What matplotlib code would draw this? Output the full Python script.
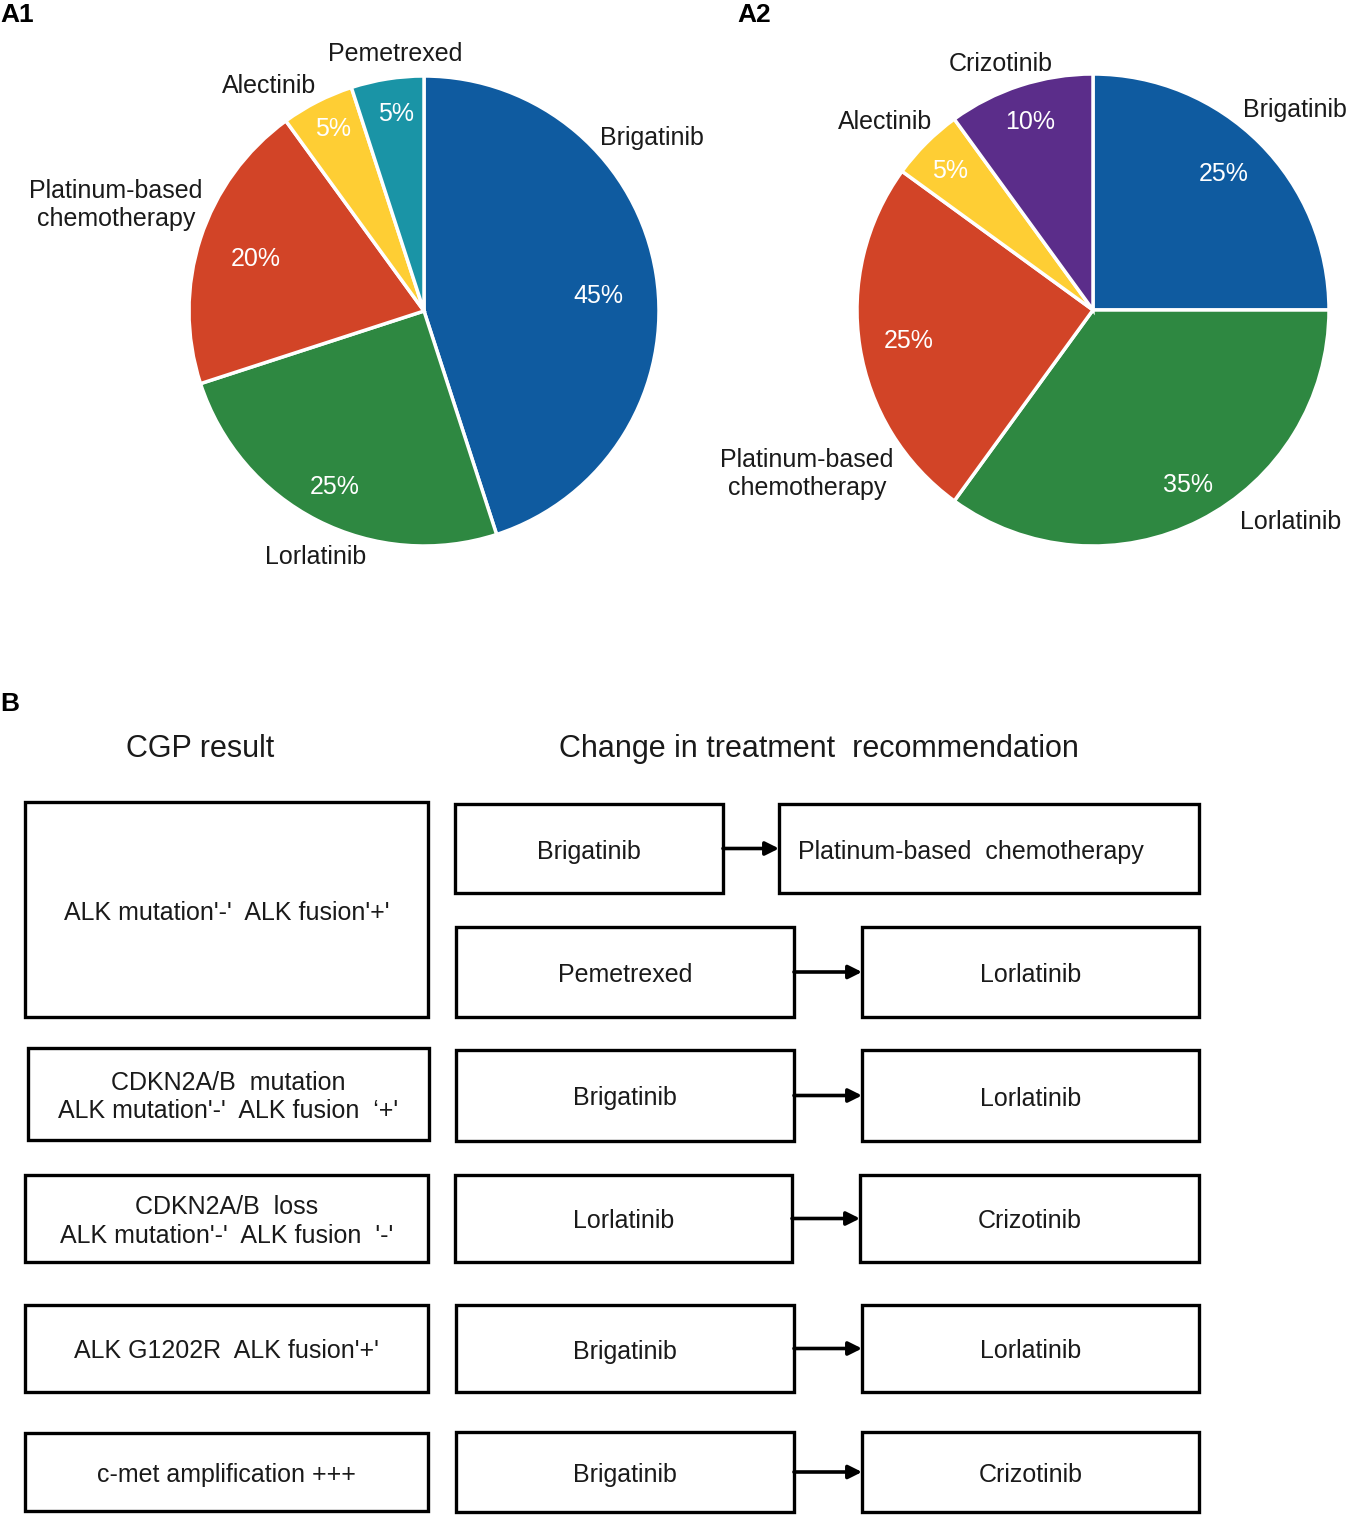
import matplotlib.pyplot as plt
from matplotlib.patches import Rectangle

plt.rcParams['font.family'] = ['Liberation Sans', 'DejaVu Sans']

# Panel A1: Behandlung vor CGP
a1_labels = ['Brigatinib', 'Lorlatinib', 'Platinum-based\nchemotherapy', 'Alectinib', 'Pemetrexed']
a1_values = [45, 25, 20, 5, 5]
a1_colors = ['#0F5BA0', '#2E8841', '#D24427', '#FECE34', '#1A94A6']

# Panel A2: Behandlung nach CGP
a2_labels = ['Brigatinib', 'Lorlatinib', 'Platinum-based\nchemotherapy', 'Alectinib', 'Crizotinib']
a2_values = [25, 35, 25, 5, 10]
a2_colors = ['#0F5BA0', '#2E8841', '#D24427', '#FECE34', '#5B2D8A']

# Panel B: CGP-Ergebnis und Therapiewechsel
cgp_results = ["ALK mutation'-'  ALK fusion'+'",
               "CDKN2A/B  mutation\nALK mutation'-'  ALK fusion  \u2018+'",
               "CDKN2A/B  loss\nALK mutation'-'  ALK fusion  '-'",
               "ALK G1202R  ALK fusion'+'",
               "c-met amplification +++"]
from_drugs = ['Brigatinib', 'Pemetrexed', 'Brigatinib', 'Lorlatinib', 'Brigatinib', 'Brigatinib']
to_drugs = ['Platinum-based  chemotherapy', 'Lorlatinib', 'Lorlatinib', 'Crizotinib', 'Lorlatinib', 'Crizotinib']

W, H = 1349, 1515
fig = plt.figure(figsize=(W / 100, H / 100), dpi=100)

txt_col = '#1a1a1a'
fs = 18


def pie_axes(cx, cy, r, values, colors):
    s = r + 15
    pax = fig.add_axes([(cx - s) / W, 1 - (cy + s) / H, 2 * s / W, 2 * s / H])
    pax.pie(values, colors=colors, startangle=90, counterclock=False,
            radius=r, frame=True,
            wedgeprops=dict(edgecolor='white', linewidth=2.5))
    pax.set_xlim(-s, s)
    pax.set_ylim(-s, s)
    pax.set_aspect('equal')
    pax.axis('off')
    return pax


pie_axes(424, 311, 235, a1_values, a1_colors)
pie_axes(1093, 310, 236, a2_values, a2_colors)

# Overlay in Pixelkoordinaten
ax = fig.add_axes([0, 0, 1, 1])
ax.set_xlim(0, W)
ax.set_ylim(H, 0)
ax.patch.set_visible(False)
ax.axis('off')

# Beschriftungen der Tortendiagramme
a1_label_pos = [(652, 138), (316, 557), (116, 205), (269, 86), (395, 54)]
a1_pct_pos = [(598, 296), (335, 487), (256, 259), (333, 129), (396, 114)]
a2_label_pos = [(1295, 110), (1291, 522), (807, 474), (885, 122), (1001, 64)]
a2_pct_pos = [(1224, 174), (1188, 485), (909, 341), (950, 171), (1030, 122)]

for labels, values, lpos, ppos in [(a1_labels, a1_values, a1_label_pos, a1_pct_pos),
                                   (a2_labels, a2_values, a2_label_pos, a2_pct_pos)]:
    for lab, v, (lx, ly), (px, py) in zip(labels, values, lpos, ppos):
        ax.text(lx, ly, lab, ha='center', va='center', fontsize=fs,
                color=txt_col, linespacing=1.25)
        ax.text(px, py, f'{v}%', ha='center', va='center', fontsize=fs,
                color='white')

# Panel-Buchstaben
ax.text(0, 15, 'A1', ha='left', va='center', fontsize=19, fontweight='bold')
ax.text(737, 15, 'A2', ha='left', va='center', fontsize=19, fontweight='bold')
ax.text(0, 704, 'B', ha='left', va='center', fontsize=19, fontweight='bold')

# Ueberschriften
ax.text(200, 749, 'CGP result', ha='center', va='center', fontsize=22, color=txt_col)
ax.text(819, 749, 'Change in treatment  recommendation', ha='center', va='center',
        fontsize=22, color=txt_col)


def box(x0, y0, x1, y1, text, ha='center'):
    ax.add_patch(Rectangle((x0, y0), x1 - x0, y1 - y0, fill=False,
                           edgecolor='black', linewidth=2.4))
    tx = (x0 + x1) / 2 if ha == 'center' else x0 + 19
    ax.text(tx, (y0 + y1) / 2 + 3, text, ha=ha, va='center',
            fontsize=fs, color=txt_col, linespacing=1.25)


left_boxes = [(25, 802, 428, 1017), (28, 1048, 429, 1140), (25, 1175, 428, 1262),
              (25, 1305, 428, 1392), (25, 1433, 428, 1511)]
for (x0, y0, x1, y1), t in zip(left_boxes, cgp_results):
    box(x0, y0, x1, y1, t)

from_boxes = [(455, 804, 723, 893), (456, 927, 794, 1017), (456, 1050, 794, 1141),
              (455, 1175, 792, 1262), (456, 1305, 794, 1392), (456, 1432, 794, 1512)]
to_boxes = [(779, 804, 1199, 893), (862, 927, 1199, 1017), (862, 1050, 1199, 1141),
            (860, 1175, 1199, 1262), (862, 1305, 1199, 1392), (862, 1432, 1199, 1512)]

for i, (fb, tb, fd, td) in enumerate(zip(from_boxes, to_boxes, from_drugs, to_drugs)):
    box(*fb, fd)
    box(*tb, td, ha='left' if i == 0 else 'center')
    ym = (fb[1] + fb[3]) / 2
    ax.annotate('', xy=(tb[0], ym), xytext=(fb[2], ym),
                arrowprops=dict(arrowstyle='-|>', color='black', lw=2.6,
                                mutation_scale=20, shrinkA=0, shrinkB=0))

plt.savefig('out.png', dpi=100)
